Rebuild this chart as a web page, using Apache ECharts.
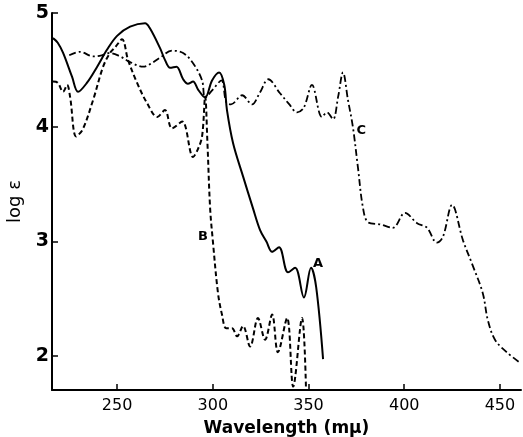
<!DOCTYPE html>
<html>
<head>
<meta charset="utf-8">
<script src="https://cdn.jsdelivr.net/npm/echarts@6/dist/echarts.min.js"></script>
<style>
  html, body { margin: 0; padding: 0; background: #fff; }
  #chart { width: 523px; height: 437px; }
</style>
</head>
<body>
<div id="chart"></div>
<script>
// curve A (solid)
const waveA = [216.5, 219, 221.8, 226.5, 229.6, 234.3, 239.6, 244.8, 250, 256.8, 264.6, 267, 272.5, 275, 277.7, 281, 284.5, 287, 289.7, 292.3, 296, 299.6, 303.3, 306, 307.4, 310.6, 315.8, 321, 324.7, 328, 331, 334.6, 339.3, 343, 347.6, 351.3, 354, 357.6];
const logA = [4.78, 4.74, 4.65, 4.44, 4.31, 4.39, 4.53, 4.68, 4.80, 4.88, 4.91, 4.87, 4.69, 4.59, 4.52, 4.53, 4.42, 4.38, 4.40, 4.33, 4.26, 4.41, 4.48, 4.37, 4.15, 3.86, 3.57, 3.29, 3.10, 3.00, 2.91, 2.95, 2.73, 2.77, 2.51, 2.77, 2.60, 1.97];

// curve B (dashed)
const waveB = [216.5, 219, 221.8, 223.9, 225.5, 228.6, 232, 237.5, 242.7, 246.3, 249, 252.6, 255.7, 260.4, 265.7, 271, 275, 278.7, 284, 289.7, 292, 294.4, 296, 297.2, 298.6, 300, 302.7, 304.8, 307, 310, 312.7, 315.8, 319.5, 323.6, 327.3, 331, 334, 338.8, 342, 346.6, 348.7];
const logB = [4.40, 4.39, 4.31, 4.37, 4.26, 3.92, 3.98, 4.24, 4.53, 4.65, 4.70, 4.77, 4.59, 4.39, 4.21, 4.09, 4.15, 3.99, 4.05, 3.74, 3.80, 3.92, 4.27, 3.86, 3.29, 3.01, 2.55, 2.36, 2.24, 2.24, 2.17, 2.26, 2.08, 2.33, 2.14, 2.36, 2.03, 2.33, 1.73, 2.33, 1.70];

// curve C (dash-dot)
const waveC = [225, 230.7, 237.5, 242, 246, 251.6, 256.8, 263.6, 267, 272.5, 278.7, 284.5, 289.7, 294.4, 296, 300, 304.5, 307, 309.5, 315.3, 320.5, 324.5, 329, 335, 340, 344, 347.5, 351.8, 357, 359.7, 362.8, 365.5, 368, 370.6, 373.2, 375.8, 378.4, 381, 387.3, 394, 400.4, 406.7, 411.9, 417, 420.2, 425, 430.7, 436, 441, 443.7, 447.4, 453.6, 460.4];
const logC = [4.63, 4.66, 4.62, 4.63, 4.65, 4.62, 4.57, 4.53, 4.55, 4.61, 4.67, 4.65, 4.56, 4.41, 4.26, 4.33, 4.41, 4.22, 4.20, 4.28, 4.20, 4.30, 4.42, 4.30, 4.20, 4.13, 4.17, 4.37, 4.09, 4.13, 4.07, 4.27, 4.48, 4.24, 4.00, 3.65, 3.30, 3.17, 3.15, 3.12, 3.25, 3.16, 3.12, 2.99, 3.04, 3.32, 3.01, 2.78, 2.55, 2.31, 2.14, 2.03, 1.94];

const xTicks = [250, 300, 350, 400, 450];
const yTicks = [2, 3, 4, 5];

// curve labels
const curveLabels = [
  { name: 'A', coord: [355, 2.81] },
  { name: 'B', coord: [294.9, 3.04] },
  { name: 'C', coord: [377.6, 3.97] }
];

const zip = (xs, ys) => xs.map((x, i) => [x, ys[i]]);
const FONT = 'DejaVu Sans';

const chart = echarts.init(document.getElementById('chart'));

const lineSeries = (data, type, width) => ({
  type: 'line',
  data,
  smooth: 0.35,
  symbol: 'none',
  lineStyle: { color: '#000', width, type },
  z: 3
});

const seriesList = [
  lineSeries(zip(waveA, logA), 'solid', 2),
  lineSeries(zip(waveB, logB), [5, 3], 2),
  lineSeries(zip(waveC, logC), [7, 3, 2, 3], 1.8),
  {
    type: 'scatter',
    data: [],
    markPoint: {
      symbol: 'circle',
      symbolSize: 1,
      itemStyle: { color: 'rgba(0,0,0,0)' },
      label: {
        show: true,
        position: 'inside',
        color: '#000',
        fontFamily: FONT,
        fontWeight: 'bold',
        fontSize: 13,
        formatter: p => p.name
      },
      data: curveLabels.map(l => ({ name: l.name, coord: l.coord }))
    }
  }
];

chart.setOption({
  animation: false,
  backgroundColor: '#fff',
  grid: { left: 52, right: 2, top: 13, bottom: 47, outerBoundsMode: 'none' },
  xAxis: {
    type: 'value',
    min: 216,
    max: 461,
    name: 'Wavelength (mμ)',
    nameLocation: 'middle',
    nameGap: 30,
    nameTextStyle: { color: '#000', fontFamily: FONT, fontSize: 17, fontWeight: 'bold' },
    axisLine: { onZero: false, lineStyle: { color: '#000', width: 2 } },
    axisTick: { inside: true, length: 6, customValues: xTicks, lineStyle: { color: '#000', width: 1.5 } },
    axisLabel: { customValues: xTicks, color: '#000', fontFamily: FONT, fontSize: 16, margin: 8 },
    splitLine: { show: false }
  },
  yAxis: {
    type: 'value',
    min: 1.7,
    max: 5,
    name: 'log ε',
    nameLocation: 'middle',
    nameGap: 28,
    nameTextStyle: { color: '#000', fontFamily: FONT, fontSize: 18 },
    axisLine: { show: true, onZero: false, lineStyle: { color: '#000', width: 2 } },
    axisTick: { show: true, inside: true, length: 6, customValues: yTicks, lineStyle: { color: '#000', width: 1.5 } },
    axisLabel: { customValues: yTicks, color: '#000', fontFamily: FONT, fontSize: 19, fontWeight: 'bold', margin: 3 },
    splitLine: { show: false }
  },
  series: seriesList
});
</script>
</body>
</html>
